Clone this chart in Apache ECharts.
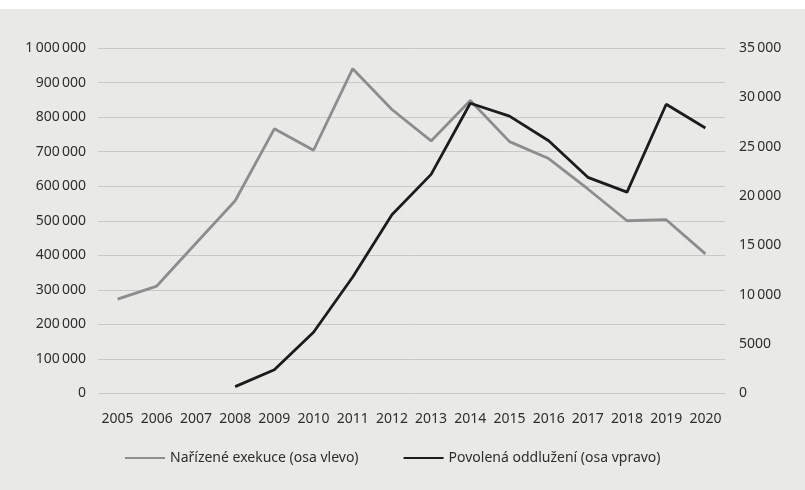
<!DOCTYPE html>
<html>
<head>
<meta charset="utf-8">
<script src="https://cdn.jsdelivr.net/npm/echarts@6/dist/echarts.min.js"></script>
<style>
html,body{margin:0;padding:0;background:#e9e9e7;}
#c{width:805px;height:490px;}
</style>
</head>
<body>
<div id="c"></div>
<script>
const years = ['2005','2006','2007','2008','2009','2010','2011','2012','2013','2014','2015','2016','2017','2018','2019','2020'];
const exekuce = [273000, 311000, 435000, 558000, 766000, 704000, 940000, 822000, 731000, 848000, 729000, 680000, 592000, 500000, 503000, 404000];
const oddluzeni = [null, null, null, 700, 2400, 6200, 11800, 18100, 22200, 29400, 28100, 25600, 21900, 20400, 29300, 26900];
const seriesNames = ['Nařízené exekuce (osa vlevo)', 'Povolená oddlužení (osa vpravo)'];

function fmt(v){
  if (v < 10000) return String(v);
  return String(v).replace(/\B(?=(\d{3})+(?!\d))/g, '\u2009');
}

const font = 'Noto Sans';
const chart = echarts.init(document.getElementById('c'));
chart.setOption({
  backgroundColor: '#e9e9e7',
  animation: false,
  graphic: [{type:'rect', shape:{x:0,y:0,width:805,height:9}, style:{fill:'#ffffff'}, z:-1}],
  grid: {left: 98, right: 80, top: 48, bottom: 96.5},
  legend: {
    left: 120, top: 446, itemWidth: 40, itemHeight: 14, itemGap: 45,
    icon: 'path://M0,6 L40,6 L40,8 L0,8 Z',
    textStyle: {fontFamily: font, fontSize: 14, color: '#2e2e2e'},
    data: seriesNames
  },
  xAxis: {
    type: 'category', data: years, boundaryGap: true,
    axisLine: {show: false}, axisTick: {show: false},
    axisLabel: {fontFamily: font, fontSize: 14, color: '#2e2e2e', margin: 19, interval: 0}
  },
  yAxis: [
    {type: 'value', min: 0, max: 1000000, interval: 100000,
     axisLine: {show:false}, axisTick:{show:false},
     axisLabel: {fontFamily: font, fontSize: 14, color: '#2e2e2e', margin: 12, formatter: fmt},
     splitLine: {lineStyle: {color: '#c9c9c7', width: 1}}},
    {type: 'value', min: 0, max: 35000, interval: 5000, position: 'right',
     axisLine: {show:false}, axisTick:{show:false},
     axisLabel: {fontFamily: font, fontSize: 14, color: '#2e2e2e', margin: 14, formatter: fmt},
     splitLine: {show: false}}
  ],
  series: [
    {name: seriesNames[0], type: 'line', data: exekuce, yAxisIndex: 0, symbol: 'none',
     lineStyle: {color: '#8d8d8d', width: 2.8}, itemStyle: {color: '#8d8d8d'}},
    {name: seriesNames[1], type: 'line', data: oddluzeni, yAxisIndex: 1, symbol: 'none',
     lineStyle: {color: '#1c1c1c', width: 2.8}, itemStyle: {color: '#1c1c1c'}}
  ]
});
</script>
</body>
</html>
